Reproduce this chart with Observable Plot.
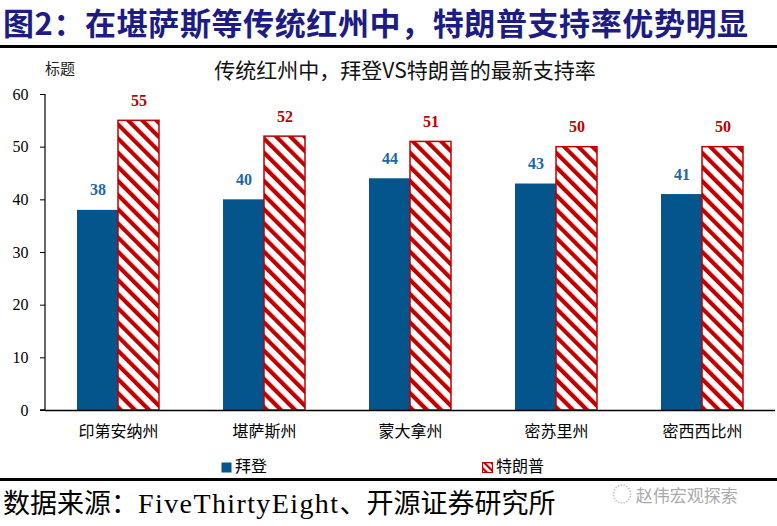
<!DOCTYPE html>
<html><head><meta charset="utf-8">
<script src="https://cdn.jsdelivr.net/npm/d3@7"></script>
<script src="https://cdn.jsdelivr.net/npm/@observablehq/plot@0.6"></script>
<style>
body{margin:0;background:#fff;}
#wrap{position:relative;width:777px;height:526px;overflow:hidden;background:#fff;font-family:"Liberation Serif","Noto Sans CJK SC",serif;}
.abs{position:absolute;white-space:nowrap;}
</style></head>
<body><div id="wrap"></div>
<script>
const states = ["印第安纳州","堪萨斯州","蒙大拿州","密苏里州","密西西比州"];
const candidates = ["拜登","特朗普"];
const biden = [38,40,44,43,41];
const trump = [55,52,51,50,50];
const yTicks = [0,10,20,30,40,50,60];
const titleText = "图2：在堪萨斯等传统红州中，特朗普支持率优势明显";
const subtitleText = "传统红州中，拜登VS特朗普的最新支持率";
const captionText = "数据来源：FiveThirtyEight、开源证券研究所";

const BLUE = "#03558b", RED = "#c00000";
const data = states.flatMap((s,i)=>[
  {state:s, cand:candidates[0], v:biden[i]},
  {state:s, cand:candidates[1], v:trump[i]}
]);
const wrap = document.getElementById("wrap");
function add(html, style){const d=document.createElement("div");d.className="abs";d.innerHTML=html;Object.assign(d.style,style);wrap.appendChild(d);return d;}

add(titleText,{left:"3px",top:"2px",fontSize:"31px",lineHeight:"40px",fontWeight:"bold",color:"#1c1c84",letterSpacing:"0.6px",fontFamily:"'Noto Sans CJK SC',sans-serif"});
add("",{left:"0px",top:"45px",width:"777px",height:"2.5px",background:"#000"});
add("标题",{left:"45px",top:"58px",fontSize:"15px",lineHeight:"20px",color:"#222",fontFamily:"'Noto Sans CJK SC',sans-serif"});
add(subtitleText,{left:"405px",top:"56px",fontSize:"21px",lineHeight:"26px",color:"#111",transform:"translateX(-50%)",fontFamily:"'Noto Sans CJK SC',sans-serif"});

const plot = Plot.plot({
  width:777, height:370,
  marginTop:14, marginBottom:40, marginLeft:45, marginRight:2,
  style:{fontFamily:"'Liberation Serif','Noto Sans CJK SC',serif", fontSize:"16px", color:"#000", background:"transparent"},
  fx:{domain:states, padding:0, label:null, axis:"bottom", tickSize:0, tickPadding:15},
  x:{domain:candidates, paddingInner:0, paddingOuter:0.78, axis:null},
  y:{domain:[0,60], ticks:yTicks, label:null, tickSize:5, tickPadding:12},
  marks:[
    Plot.barY(data.filter(d=>d.cand===candidates[0]),{fx:"state",x:"cand",y:"v",fill:BLUE}),
    Plot.barY(data.filter(d=>d.cand===candidates[1]),{fx:"state",x:"cand",y:"v",fill:"url(#hatch)",stroke:RED,strokeWidth:1.5}),
    Plot.ruleY([0],{stroke:"#000",strokeWidth:1.5}),
    Plot.text(data.filter(d=>d.cand===candidates[0]),{fx:"state",x:"cand",y:"v",text:d=>String(d.v),dy:-20,fill:"#1d67a6",fontWeight:"bold",fontSize:16}),
    Plot.text(data.filter(d=>d.cand===candidates[1]),{fx:"state",x:"cand",y:"v",text:d=>String(d.v),dy:-20,fill:RED,fontWeight:"bold",fontSize:16})
  ]
});
const svg = d3.select(plot.tagName==="svg"?plot:plot.querySelector("svg"));
const defs = svg.insert("defs",":first-child");
const pat = defs.append("pattern").attr("id","hatch").attr("patternUnits","userSpaceOnUse").attr("width",10).attr("height",10).attr("patternTransform","rotate(-45)");
pat.append("rect").attr("width",10).attr("height",10).attr("fill","#fff");
pat.append("rect").attr("width",4.2).attr("height",10).attr("fill",RED);
const ys = plot.scale("y");
svg.append("line").attr("x1",45).attr("x2",45).attr("y1",ys.apply(60)).attr("y2",ys.apply(0)).attr("stroke","#000").attr("stroke-width",1.2);
svg.append("line").attr("x1",40).attr("x2",45).attr("y1",ys.apply(0)).attr("y2",ys.apply(0)).attr("stroke","#000").attr("stroke-width",1.5);
const holder = add("",{left:"0px",top:"80px"});
holder.appendChild(plot);

const sq = (fill, stroke)=>`<svg width="11" height="11" style="vertical-align:-1px;margin-right:3px"><defs><pattern id="hl" patternUnits="userSpaceOnUse" width="5" height="5" patternTransform="rotate(-45)"><rect width="5" height="5" fill="#fff"/><rect width="2.2" height="5" fill="${RED}"/></pattern></defs><rect x="0.5" y="0.5" width="10" height="10" fill="${fill}" stroke="${stroke}" stroke-width="1.2"/></svg>`;
add(sq(BLUE,"none")+candidates[0],{left:"221px",top:"454px",fontSize:"16px",lineHeight:"22px",color:"#000",fontFamily:"'Noto Sans CJK SC',sans-serif"});
add(sq("url(#hl)",RED)+candidates[1],{left:"482px",top:"454px",fontSize:"16px",lineHeight:"22px",color:"#000",fontFamily:"'Noto Sans CJK SC',sans-serif"});
add("",{left:"0px",top:"478px",width:"777px",height:"2.5px",background:"#000"});
add(captionText.replace("FiveThirtyEight","<span style=\"font-family:'Liberation Serif';letter-spacing:1.4px;font-size:28px\">FiveThirtyEight</span>"),{left:"3px",top:"484px",fontSize:"27px",lineHeight:"36px",color:"#000",fontFamily:"'Noto Sans CJK SC',sans-serif"});
add("<span style='font-size:20px;color:#bbb'>◌</span> 赵伟宏观探索",{left:"612px",top:"482px",fontSize:"17px",lineHeight:"24px",color:"#aaa",fontFamily:"'Noto Sans CJK SC',sans-serif"});
</script></body></html>
